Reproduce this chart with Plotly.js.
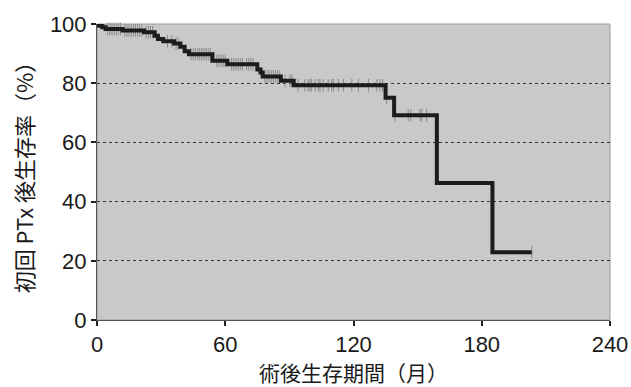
<!DOCTYPE html>
<html>
<head>
<meta charset="utf-8">
<script src="https://cdn.plot.ly/plotly-3.0.1.min.js"></script>
<style>html,body{margin:0;padding:0;background:#fff;}#chart{width:631px;height:387px;}</style>
</head>
<body>
<div id="chart"></div>
<script>
// Kaplan-Meier step data (months, survival %)
const stepTimes = [0, 1, 2.5, 4, 12, 22, 27, 28.5, 31, 36, 39, 41, 43, 54, 61, 75, 76.5, 77.5, 86, 92, 135, 139, 159, 185, 203.4];
const stepSurvival = [100, 99.4, 98.9, 98.3, 97.8, 97.2, 96.0, 94.9, 94.2, 93.4, 92.3, 90.8, 89.8, 87.6, 86.4, 84.6, 83.6, 82.3, 80.8, 79.3, 75.1, 69.2, 46.3, 22.9, 22.9];

// Censored observation times (months)
const censorTimes = [5,6,7,8,9,10,11, 13,14,15,16,17,18,19,20,21, 23,24,25,26, 33,35,37,38,
  44,45,46,47,48,49,50,51,52,53, 56,57,58,59,60, 63,64,65,66,67,68,70,71,72,73,
  78.5,79.5,80.5,81.5,82.5,83.5,84.5,85.5, 88,90.3,91.2,
  94.1,97.2,98.8,99.6,100.4,102,103.5,104.3,105.8,108.2,109.8,110.6,112.9,115.3,119.2,122.3,127,130.9,132.4,133.6,
  135.5, 139.4,145.6,146.8,151.1,151.9,154.2, 203.4];

const xTickVals = [0, 60, 120, 180, 240];
const yTickVals = [0, 20, 40, 60, 80, 100];
const xTitle = '術後生存期間（月）';
const yTitle = '初回 PTx 後生存率（%）';

// survival level at a given time, looked up from the step data
function levelAt(t) {
  let v = stepSurvival[0];
  for (let i = 0; i < stepTimes.length; i++) { if (stepTimes[i] <= t) v = stepSurvival[i]; }
  return v;
}
const censorSurvival = censorTimes.map(levelAt);

const fontFam = '"Liberation Sans", Arial, "Noto Sans CJK JP", sans-serif';
const titleFam = '"Noto Sans CJK JP", sans-serif';

const traces = [
  {
    x: censorTimes, y: censorSurvival, type: 'scatter', mode: 'markers',
    marker: {symbol: 'line-ns-open', size: 9, line: {width: 1, color: '#8a8a8a'}, color: '#8a8a8a'},
    hoverinfo: 'skip', showlegend: false, cliponaxis: false
  },
  {
    x: stepTimes, y: stepSurvival, type: 'scatter', mode: 'lines',
    line: {shape: 'hv', width: 4, color: '#1c1c1c'},
    showlegend: false
  }
];

const layout = {
  width: 631, height: 387,
  margin: {l: 97, r: 21, t: 24, b: 67},
  paper_bgcolor: '#ffffff',
  plot_bgcolor: '#c9c9c9',
  showlegend: false,
  font: {family: fontFam, color: '#1a1a1a'},
  xaxis: {
    range: [0, 240], tickvals: xTickVals, ticktext: xTickVals.map(String),
    showgrid: false, zeroline: false,
    showline: true, linecolor: '#555', linewidth: 1,
    ticks: 'outside', ticklen: 5, tickwidth: 2, tickcolor: '#222',
    tickfont: {size: 22, family: fontFam, color: '#1a1a1a'},
    title: {text: xTitle, font: {size: 21, family: titleFam, color: '#1a1a1a'}, standoff: 12},
    automargin: false
  },
  yaxis: {
    range: [0, 100], tickvals: yTickVals, ticktext: yTickVals.map(String),
    showgrid: true, gridcolor: '#333', griddash: 'dot', gridwidth: 1,
    zeroline: false,
    showline: true, linecolor: '#555', linewidth: 1,
    ticks: 'outside', ticklen: 5, tickwidth: 2, tickcolor: '#222',
    tickfont: {size: 22, family: fontFam, color: '#1a1a1a'},
    title: {text: yTitle, font: {size: 22, family: titleFam, color: '#1a1a1a'}, standoff: 10},
    automargin: false
  },
  shapes: [
    {type: 'rect', xref: 'paper', yref: 'paper', x0: 0, x1: 1, y0: 0, y1: 1,
     line: {color: '#9a9a9a', width: 1}, layer: 'below'}
  ]
};

Plotly.newPlot('chart', traces, layout, {displayModeBar: false, staticPlot: true});
</script>
</body>
</html>
